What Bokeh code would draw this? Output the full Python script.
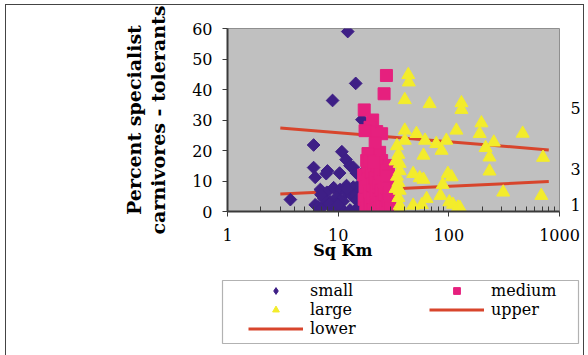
import math
from bokeh.plotting import figure
from bokeh.layouts import column
from bokeh.models import (FixedTicker, Legend, LegendItem, BoxAnnotation, BasicTickFormatter,
                          LinearAxis, LogAxis, Range1d)
from bokeh.embed import file_html
from bokeh.resources import INLINE

# ---------------- data ----------------
small_x = [3.7, 6.0, 6.0, 6.2, 8.0, 7.8, 10.3, 8.9, 10.8, 11.8, 12.2, 12.8, 13.7, 14.4, 14.6,
           16.4, 16.9, 6.9, 7.9, 9.1, 10.4, 11.9, 12.4, 13.7, 14.7, 15.8, 6.2, 6.6, 7.1, 7.4,
           7.0, 8.5, 9.1, 9.7, 9.7, 10.4, 11.1, 11.1, 11.9, 12.8, 13.3, 14.2, 14.7, 15.2, 8.2,
           10.0, 12.0, 16.5, 17.5, 16.0]
small_y = [3.9, 21.8, 14.4, 11.2, 13.3, 12.4, 12.6, 36.4, 19.6, 17.0, 59.0, 15.0, 14.5, 42.0, 12.6,
           30.1, 12.9, 7.2, 6.3, 7.8, 7.2, 8.5, 6.9, 8.0, 6.3, 9.1, 2.2, 1.5, 1.2, 4.2,
           5.5, 3.1, 0.6, 4.7, 1.4, 3.6, 3.4, 0.3, 6.3, 0.5, 5.2, 5.2, 3.6, 1.4, 2.5,
           2.2, 7.4, 4.5, 2.0, 7.0]

medium_x = [27.3, 26.0, 17.2, 20.5, 19.4, 17.5, 22.3, 24.7, 23.7, 18.1, 24.7, 28.4, 21.6, 18.6,
            17.0, 17.5, 17.2, 17.8, 18.5, 18.8, 19.0, 19.3, 20.0, 20.3, 20.5, 20.8, 21.5, 21.8,
            22.0, 22.5, 23.0, 23.2, 23.5, 24.0, 24.5, 25.0, 25.5, 26.0, 26.5, 27.0, 27.5, 28.0,
            28.5, 29.0, 29.5, 19.0, 21.0]
medium_y = [44.6, 38.6, 33.3, 30.0, 27.6, 26.5, 26.2, 25.5, 19.4, 16.7, 16.7, 15.1, 22.3, 19.0,
            12.0, 8.0, 4.0, 1.0, 14.0, 10.5, 6.0, 2.5, 13.0, 8.8, 4.5, 0.5, 11.0, 6.8,
            2.0, 15.0, 9.5, 4.0, 1.0, 12.5, 7.0, 3.0, 10.0, 5.5, 1.5, 13.5, 8.0, 3.5,
            11.5, 6.0, 1.0, 16.5, 16.0]

large_x = [43.0, 43.5, 40.0, 67.0, 130, 130, 117, 197, 190, 465, 40.0, 51, 61, 77, 95, 40.0,
           59, 86, 35, 36, 36, 47.6, 54.6, 59, 98, 88, 35, 63, 84, 36, 36, 36, 47.6, 57, 101,
           109, 121, 126, 215, 255, 233, 710, 233, 310, 685, 106, 34, 33, 34, 35, 33]
large_y = [44.8, 42.4, 36.6, 35.3, 35.6, 33.4, 26.6, 29.0, 25.5, 25.6, 26.6, 25.5, 23.3, 22.2,
           23.3, 23.3, 18.4, 20.0, 18.7, 15.7, 13.3, 12.4, 11.0, 10.5, 12.4, 8.8, 9.5, 4.2, 5.2,
           6.9, 2.0, 0.8, 2.0, 2.2, 3.1, 2.3, 1.4, 1.2, 20.9, 22.7, 17.8, 17.7, 13.2, 6.3, 5.2,
           11.3, 21.5, 16.5, 11.5, 4.5, 7.5]

trend_x = [3, 800]
upper_y = [27.4, 20.2]
lower_y = [5.7, 9.8]

x_ticks = [1, 10, 100, 1000]
y_ticks = [0, 10, 20, 30, 40, 50, 60]
side_labels = ["5", "3", "1"]
side_label_y = [34, 14, 2]

series_names = ["small", "medium", "large", "upper", "lower"]
x_title = "Sq Km"
y_title = "Percent specialist\ncarnivores - tolerants"

FONT = "DejaVu Serif"
C_SMALL = "#3E1F86"
C_MED = "#E6207E"
C_LARGE = "#F3EC2B"
C_LINE = "#D8452C"
AX = "#3a3a3a"

# ---------------- main chart ----------------
W = 577
p = figure(width=W, height=260, x_axis_type="log", x_range=(1, 1000), y_range=(0, 60),
           output_backend="svg", toolbar_location=None,
           min_border_left=221, min_border_right=23, min_border_top=23, min_border_bottom=54)
p.background_fill_color = "#C0C0C0"
p.border_fill_color = "white"
p.outline_line_color = "#8f8f8f"
p.outline_line_width = 1
p.grid.visible = False

minor = [m * d for d in x_ticks[:-1] for m in range(2, 10)]
p.xaxis.ticker = FixedTicker(ticks=x_ticks, minor_ticks=minor)
p.xaxis.formatter = BasicTickFormatter()
p.yaxis.ticker = FixedTicker(ticks=y_ticks)
for ax in (p.xaxis, p.yaxis):
    ax.axis_line_color = AX
    ax.axis_line_width = 2
    ax.major_tick_line_color = AX
    ax.major_tick_out = 5
    ax.major_tick_in = 0
    ax.major_label_text_font = FONT
    ax.major_label_text_font_size = "16px"
    ax.major_label_text_color = "black"
p.xaxis.minor_tick_in = 5
p.xaxis.minor_tick_out = 0
p.xaxis.minor_tick_line_color = AX
p.yaxis.minor_tick_line_color = None
p.xaxis.major_label_standoff = 12
p.yaxis.major_label_standoff = 10

p.yaxis.axis_label = y_title
p.yaxis.axis_label_text_font = FONT
p.yaxis.axis_label_text_font_style = "bold"
p.yaxis.axis_label_text_font_size = "19px"
p.yaxis.axis_label_text_line_height = 1.1
p.yaxis.axis_label_standoff = 20
p.yaxis.axis_label_text_color = "black"

# x title as an off-centre label axis
title_tick = 11
xt_axis = LogAxis(ticker=FixedTicker(ticks=[title_tick]),
                  major_label_overrides={title_tick: x_title},
                  axis_line_color=None, major_tick_line_color=None, minor_tick_line_color=None,
                  major_label_standoff=-9, major_label_text_font=FONT,
                  major_label_text_font_style="bold", major_label_text_font_size="16px",
                  major_label_text_color="black")
p.add_layout(xt_axis, "below")

# right-hand labels
r_axis = LinearAxis(ticker=FixedTicker(ticks=side_label_y),
                    major_label_overrides=dict(zip(side_label_y, side_labels)),
                    axis_line_color=None, major_tick_line_color=None, minor_tick_line_color=None,
                    major_label_standoff=5, major_label_text_font=FONT,
                    major_label_text_font_size="16px", major_label_text_color="black")
p.add_layout(r_axis, "right")

r_up = p.line(trend_x, upper_y, line_color=C_LINE, line_width=3)
r_low = p.line(trend_x, lower_y, line_color=C_LINE, line_width=3)
p.scatter(small_x, small_y, marker="square", angle=math.pi / 4, size=9,
          fill_color=C_SMALL, line_color=C_SMALL)
p.scatter(medium_x, medium_y, marker="square", size=12, fill_color=C_MED, line_color=C_MED)
p.scatter(large_x, large_y, marker="triangle", size=13, fill_color=C_LARGE, line_color=C_LARGE)

# ---------------- legend strip ----------------
QH = 90
q = figure(width=W, height=QH, frame_width=W, frame_height=QH,
           x_range=Range1d(0, W), y_range=Range1d(QH, 0),
           output_backend="svg", toolbar_location=None, x_axis_location=None,
           y_axis_location=None, min_border=0)
try:
    q.frame_align = False
    p.frame_align = False
except Exception:
    pass
q.outline_line_color = None
q.grid.visible = False
q.background_fill_color = "white"
q.border_fill_color = "white"

q.add_layout(BoxAnnotation(left=216, right=572, top=15, bottom=78, fill_color="white",
                           fill_alpha=1, line_color="black", line_width=1.2))

NAN = [float("nan")]
lg_small = q.scatter(NAN, NAN, marker="diamond", size=9,
                     fill_color=C_SMALL, line_color=C_SMALL)
lg_med = q.scatter(NAN, NAN, marker="square", size=12, fill_color=C_MED, line_color=C_MED)
lg_large = q.scatter(NAN, NAN, marker="triangle", size=13, fill_color=C_LARGE,
                     line_color=C_LARGE)
lg_up = q.line(NAN * 2, NAN * 2, line_color=C_LINE, line_width=3)
lg_low = q.line(NAN * 2, NAN * 2, line_color=C_LINE, line_width=3)


def make_legend(items, loc):
    return Legend(items=items, location=loc, padding=2, spacing=0, margin=0,
                  glyph_width=55, glyph_height=17, label_height=17, label_standoff=7,
                  label_text_font=FONT, label_text_font_size="16px",
                  label_text_color="black", border_line_color=None,
                  background_fill_alpha=0)


legA = make_legend([LegendItem(label=series_names[0], renderers=[lg_small]),
                    LegendItem(label=series_names[2], renderers=[lg_large]),
                    LegendItem(label=series_names[4], renderers=[lg_low])], (242, 17))
legB = make_legend([LegendItem(label=series_names[1], renderers=[lg_med]),
                    LegendItem(label=series_names[3], renderers=[lg_up])], (423, 36))
q.add_layout(legA)
q.add_layout(legB)

page = column(p, q, spacing=0)
page.styles = {"margin": "4px 0 0 5px", "border": "1px solid #444444"}

open("out.html", "w").write(file_html(page, INLINE))
